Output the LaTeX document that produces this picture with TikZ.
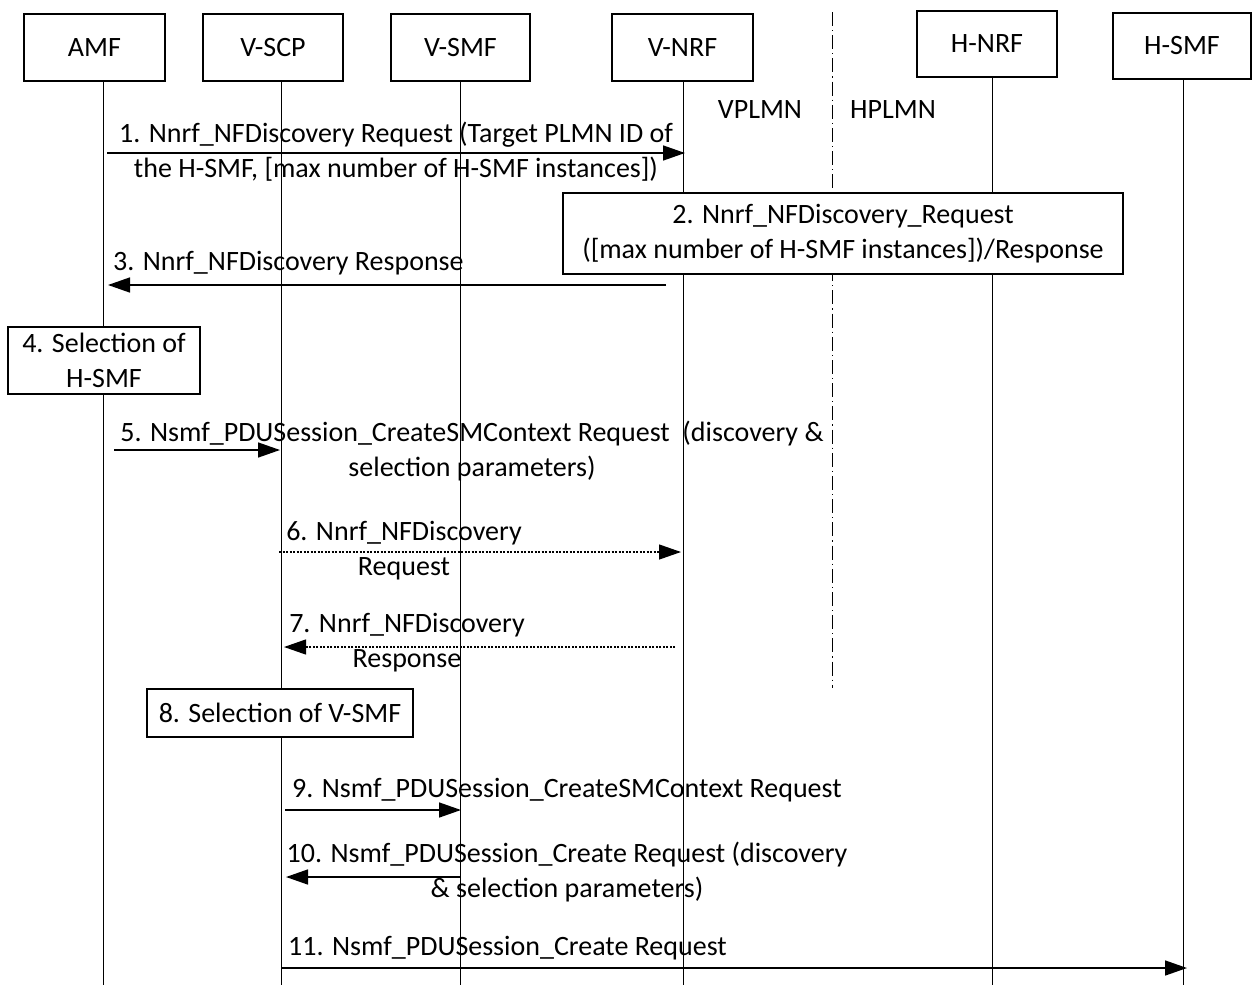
\documentclass[tikz,border=0pt]{standalone}
\usepackage{fontspec}
\setmainfont{Carlito}
\usetikzlibrary{arrows.meta}
\newcommand\lblfont{\fontsize{28}{35}\selectfont}
\begin{document}
\begin{tikzpicture}[x=1pt,y=-1pt,
  ent/.style={draw, line width=1.1pt, fill=white, inner sep=0pt, minimum height=67pt, font=\lblfont},
  procbox/.style={draw, line width=1.1pt, fill=white, inner sep=0pt, align=center, font=\lblfont},
  life/.style={line width=1pt},
  msg/.style={line width=1.5pt, -{Triangle[length=22pt,width=15pt]}},
  dmsg/.style={line width=1.2pt, dash pattern=on 2pt off 1.5pt, -{Triangle[length=22pt,width=15pt]}},
  lbl/.style={inner sep=0pt, align=center, font=\lblfont},
  border/.style={line width=1pt, dash pattern=on 14pt off 4pt on 1.2pt off 4pt}]
\useasboundingbox (0,0) rectangle (1252,985);
% lifelines first
\coordinate (amfT) at (103,81);   \coordinate (amfB) at (103,985);
\coordinate (scpT) at (281,81);   \coordinate (scpB) at (281,985);
\coordinate (smfT) at (460,81);   \coordinate (smfB) at (460,985);
\coordinate (vnrfT) at (683,81);  \coordinate (vnrfB) at (683,985);
\coordinate (hnrfT) at (992,77);  \coordinate (hnrfB) at (992,985);
\coordinate (hsmfT) at (1183,79); \coordinate (hsmfB) at (1183,985);
\draw[life] (amfT) -- (amfB);
\draw[life] (scpT) -- (scpB);
\draw[life] (smfT) -- (smfB);
\draw[life] (vnrfT) -- (vnrfB);
\draw[life] (hnrfT) -- (hnrfB);
\draw[life] (hsmfT) -- (hsmfB);
% entity boxes
\node[ent, minimum width=141pt] (amf) at (94.5,47.5) {AMF};
\node[ent, minimum width=140pt] (scp) at (273,47.5) {V-SCP};
\node[ent, minimum width=139pt] (smf) at (460.5,47.5) {V-SMF};
\node[ent, minimum width=141pt] (vnrf) at (682.5,47.5) {V-NRF};
\node[ent, minimum width=140pt, minimum height=66pt] (hnrf) at (987,44) {H-NRF};
\node[ent, minimum width=138pt, minimum height=66pt] (hsmf) at (1182,46) {H-SMF};
% PLMN border
\coordinate (bT) at (832,12); \coordinate (bB) at (832,688);
\draw[border] (bT) -- (bB);
\node[lbl] (vplmn) at (760,110) {VPLMN};
\node[lbl] (hplmn) at (893,110) {HPLMN};
% 1
\coordinate (m1s) at (107,153); \coordinate (m1e) at (685,153);
\draw[msg] (m1s) -- (m1e);
\node[lbl] (l1) at (396,151.5) {1. Nnrf\_NFDiscovery Request (Target PLMN ID of\\the H-SMF, [max number of H-SMF instances])};
% 2
\node[procbox, minimum width=560pt, minimum height=81pt] (b2) at (843,233.5) {2. Nnrf\_NFDiscovery\_Request\\([max number of H-SMF instances])/Response};
% 3
\coordinate (m3s) at (666,285); \coordinate (m3e) at (108,285);
\draw[msg] (m3s) -- (m3e);
\node[lbl, anchor=west] (l3) at (113,263) {3. Nnrf\_NFDiscovery Response};
% 4
\node[procbox, minimum width=192pt, minimum height=67pt] (b4) at (104,360.5) {4. Selection of\\H-SMF};
% 5
\coordinate (m5s) at (114,450); \coordinate (m5e) at (280,450);
\draw[msg] (m5s) -- (m5e);
\node[lbl] (l5) at (472,451) {5. Nsmf\_PDUSession\_CreateSMContext Request~ (discovery \&\\selection parameters)};
% 6
\coordinate (m6s) at (279,552); \coordinate (m6e) at (681,552);
\draw[dmsg] (m6s) -- (m6e);
\node[lbl] (l6) at (404,550.5) {6. Nnrf\_NFDiscovery\\Request};
% 7
\coordinate (m7s) at (675,647); \coordinate (m7e) at (284,647);
\draw[dmsg] (m7s) -- (m7e);
\node[lbl] (l7) at (407,642.5) {7. Nnrf\_NFDiscovery\\Response};
% 8
\node[procbox, minimum width=266pt, minimum height=48pt] (b8) at (280,713) {8. Selection of V-SMF};
% 9
\coordinate (m9s) at (285,810); \coordinate (m9e) at (461,810);
\draw[msg] (m9s) -- (m9e);
\node[lbl, anchor=west] (l9) at (292,790) {9. Nsmf\_PDUSession\_CreateSMContext Request};
% 10
\coordinate (m10s) at (460,877); \coordinate (m10e) at (286,877);
\draw[msg] (m10s) -- (m10e);
\node[lbl] (l10) at (567,872) {10. Nsmf\_PDUSession\_Create Request (discovery\\\& selection parameters)};
% 11
\coordinate (m11s) at (281,968); \coordinate (m11e) at (1187,968);
\draw[msg] (m11s) -- (m11e);
\node[lbl, anchor=west] (l11) at (288,948) {11. Nsmf\_PDUSession\_Create Request};
\end{tikzpicture}
\end{document}
